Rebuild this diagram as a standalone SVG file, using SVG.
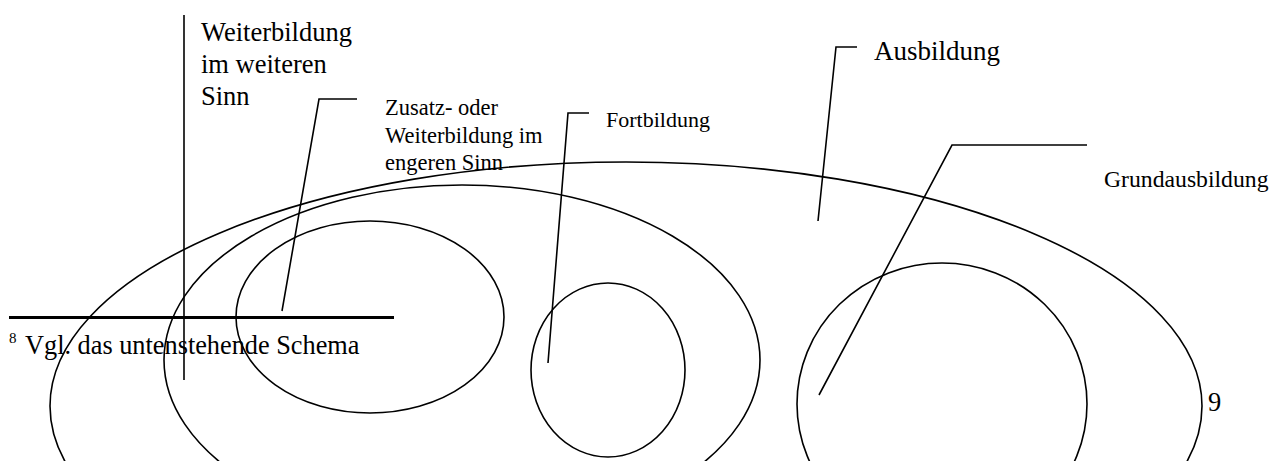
<svg xmlns="http://www.w3.org/2000/svg" width="1284" height="461" viewBox="0 0 1284 461">
<style>
.sh{fill:none;stroke:#000;stroke-width:1.6}
.ln{fill:none;stroke:#000;stroke-width:1.6}
.t{font-family:"Liberation Serif","Times New Roman",serif;fill:#000}
.big{font-size:26.5px}
.mid{font-size:22.5px}
</style>
<rect width="1284" height="461" fill="#fff"/>
<g id="ausbildung">
<ellipse class="sh" cx="626" cy="406" rx="576" ry="244"/>
<text class="t" font-size="27" x="874" y="60">Ausbildung</text>
</g>
<g id="weiterbildung-weiteren">
<ellipse class="sh" cx="462" cy="360" rx="298" ry="175"/>
<text class="t big" x="201" y="41">Weiterbildung</text>
<text class="t big" x="201" y="73">im weiteren</text>
<text class="t big" x="201" y="105">Sinn</text>
</g>
<g id="zusatz">
<ellipse class="sh" cx="370" cy="317" rx="134" ry="96"/>
<text class="t mid" x="385" y="115">Zusatz- oder</text>
<text class="t mid" x="385" y="143">Weiterbildung im</text>
<text class="t mid" x="385" y="170">engeren Sinn</text>
</g>
<g id="fortbildung">
<ellipse class="sh" cx="608" cy="370" rx="77" ry="87"/>
<text class="t" font-size="22" x="606" y="127">Fortbildung</text>
</g>
<g id="grundausbildung">
<ellipse class="sh" cx="942" cy="404" rx="145" ry="141"/>
<text class="t" font-size="23.7" x="1104" y="187">Grundausbildung</text>
</g>
<g id="footnote">
<line x1="184" y1="15" x2="184" y2="380" class="ln"/>
<line x1="9" y1="317.5" x2="394" y2="317.5" stroke="#000" stroke-width="3"/>
<text class="t" font-size="15" x="9" y="343">8</text>
<text class="t" font-size="26.3" x="25" y="354">Vgl. das untenstehende Schema</text>
<text class="t big" x="1208" y="411">9</text>
</g>
<g id="connectors">
<polyline class="ln" points="282,311 319,99 357,99"/>
<polyline class="ln" points="548,363 568,113 589,113"/>
<polyline class="ln" points="818,221 836,47 857,47"/>
<polyline class="ln" points="819,395 952,145 1087,145"/>
</g>
</svg>
